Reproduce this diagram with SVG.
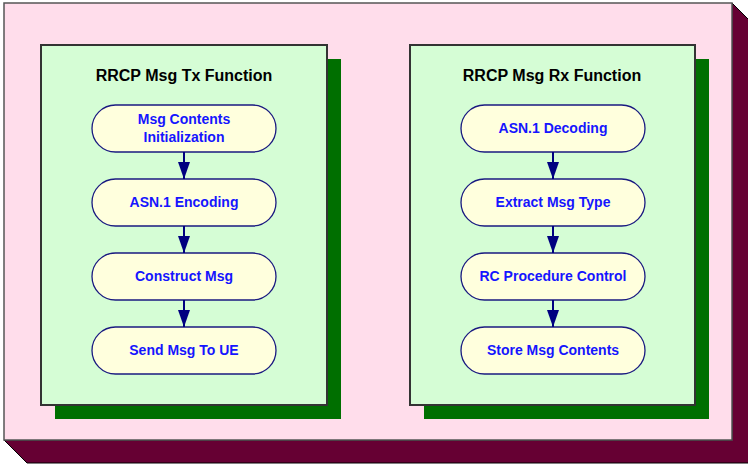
<svg xmlns="http://www.w3.org/2000/svg" width="748" height="464" viewBox="0 0 748 464">
  <defs>
    <style>
      .frame { fill: #FFDDEB; stroke: #555; stroke-width: 1.5; }
      .extrude { fill: #660033; stroke: #000; stroke-width: 1; }
      .panel { fill: #D5FDD5; stroke: #333; stroke-width: 2; }
      .panel-shadow { fill: #006F00; }
      .title { font-family: "Liberation Sans", Arial, sans-serif; font-weight: bold; font-size: 16px; fill: #000; text-anchor: middle; }
      .step { fill: #FFFFDD; stroke: #1A1A80; stroke-width: 1.3; }
      .label { font-family: "Liberation Sans", Arial, sans-serif; font-weight: bold; font-size: 14px; fill: #1515FF; text-anchor: middle; }
      .flow { stroke: #000080; stroke-width: 2; fill: none; marker-end: url(#head); }
    </style>
    <marker id="head" viewBox="0 0 17 12" refX="17" refY="6" markerWidth="17" markerHeight="12" markerUnits="userSpaceOnUse" orient="auto">
      <path d="M0,0 L17,6 L0,12 Z" fill="#000080"/>
    </marker>
  </defs>

  <!-- outer frame with 3D extrusion -->
  <g id="frame">
    <polygon class="extrude" points="4,440 27,463 760,463 760,31 732,3 732,440"/>
    <rect class="frame" x="4" y="3" width="728" height="437"/>
  </g>

  <!-- transmit panel -->
  <g id="tx-panel">
    <rect class="panel-shadow" x="55" y="59" width="286" height="360"/>
    <rect class="panel" x="41" y="45" width="286" height="360"/>
    <text class="title" x="184" y="81">RRCP Msg Tx Function</text>
  </g>

  <!-- receive panel -->
  <g id="rx-panel">
    <rect class="panel-shadow" x="424" y="59" width="285" height="360"/>
    <rect class="panel" x="410" y="45" width="285" height="360"/>
    <text class="title" x="552" y="81">RRCP Msg Rx Function</text>
  </g>

  <!-- Tx steps -->
  <g id="tx-init">
    <rect class="step" x="92" y="105" width="184" height="47" rx="23.5"/>
    <text class="label" x="184" y="124">Msg Contents</text>
    <text class="label" x="184" y="142">Initialization</text>
  </g>
  <g id="tx-encode">
    <rect class="step" x="92" y="179" width="184" height="47" rx="23.5"/>
    <text class="label" x="184" y="207">ASN.1 Encoding</text>
  </g>
  <g id="tx-construct">
    <rect class="step" x="92" y="253" width="184" height="47" rx="23.5"/>
    <text class="label" x="184" y="281">Construct Msg</text>
  </g>
  <g id="tx-send">
    <rect class="step" x="92" y="327" width="184" height="47" rx="23.5"/>
    <text class="label" x="184" y="355">Send Msg To UE</text>
  </g>

  <!-- Rx steps -->
  <g id="rx-decode">
    <rect class="step" x="461" y="105" width="184" height="47" rx="23.5"/>
    <text class="label" x="553" y="133">ASN.1 Decoding</text>
  </g>
  <g id="rx-extract">
    <rect class="step" x="461" y="179" width="184" height="47" rx="23.5"/>
    <text class="label" x="553" y="207">Extract Msg Type</text>
  </g>
  <g id="rx-control">
    <rect class="step" x="461" y="253" width="184" height="47" rx="23.5"/>
    <text class="label" x="553" y="281">RC Procedure Control</text>
  </g>
  <g id="rx-store">
    <rect class="step" x="461" y="327" width="184" height="47" rx="23.5"/>
    <text class="label" x="553" y="355">Store Msg Contents</text>
  </g>

  <!-- connectors -->
  <g id="connectors">
    <line class="flow" x1="184" y1="152" x2="184" y2="179"/>
    <line class="flow" x1="184" y1="226" x2="184" y2="253"/>
    <line class="flow" x1="184" y1="300" x2="184" y2="327"/>
    <line class="flow" x1="553" y1="152" x2="553" y2="179"/>
    <line class="flow" x1="553" y1="226" x2="553" y2="253"/>
    <line class="flow" x1="553" y1="300" x2="553" y2="327"/>
  </g>
</svg>
